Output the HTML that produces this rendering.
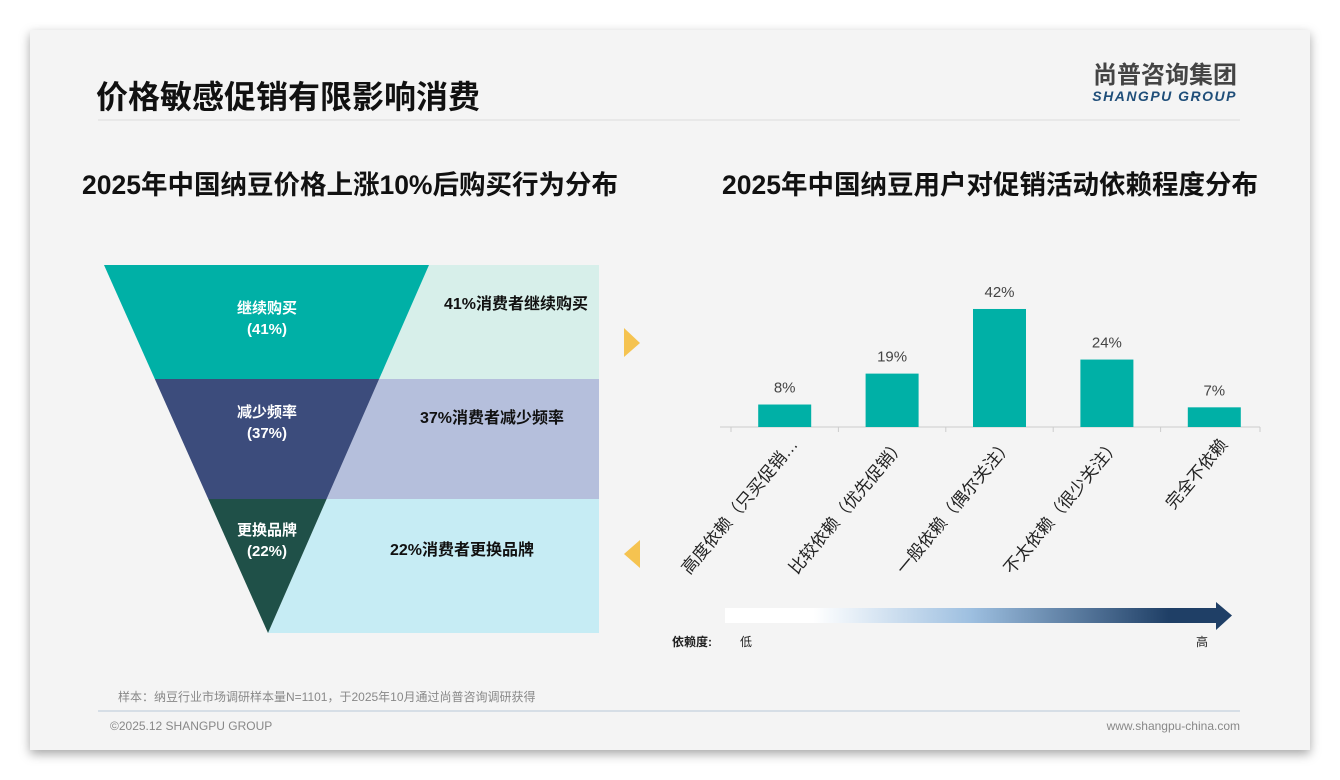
<!DOCTYPE html>
<html><head><meta charset="utf-8"><style>
body{margin:0;width:1340px;height:780px;background:#fff;overflow:hidden;font-family:"Liberation Sans","Noto Sans CJK SC",sans-serif}
#card{position:absolute;left:30px;top:30px;width:1280px;height:720px;background:#f4f4f4;box-shadow:0 4px 10px rgba(0,0,0,.35)}
</style></head><body>
<div id="card"></div>
<svg width="1340" height="780" style="position:absolute;left:0;top:0" font-family="Liberation Sans, Noto Sans CJK SC, sans-serif">
<text x="96" y="108" font-size="32" font-weight="bold" fill="#111">价格敏感促销有限影响消费</text>
<line x1="98" y1="120" x2="1240" y2="120" stroke="#ddd"/>
<text x="1237" y="83" font-size="24" font-weight="bold" fill="#444" text-anchor="end">尚普咨询集团</text>
<text x="1237" y="101" font-size="14" font-weight="bold" font-style="italic" fill="#1f4e79" text-anchor="end" letter-spacing="1.5">SHANGPU GROUP</text>
<text x="350" y="194" font-size="26.5" font-weight="bold" fill="#111" text-anchor="middle">2025年中国纳豆价格上涨10%后购买行为分布</text>
<text x="990" y="194" font-size="26.5" font-weight="bold" fill="#111" text-anchor="middle">2025年中国纳豆用户对促销活动依赖程度分布</text>
<g id="funnel"></g>
<polygon points="624,328 640,343 624,357" fill="#f5c350"/>
<polygon points="640,540 624,554 640,568" fill="#f5c350"/>
<g id="bars"></g>
<defs><linearGradient id="gr" x1="0" x2="1"><stop offset="0.18" stop-color="#fff"/><stop offset="0.5" stop-color="#9dbfe0"/><stop offset="0.9" stop-color="#1f3f66"/></linearGradient></defs>
<rect x="725" y="608" width="493" height="15" fill="url(#gr)"/>
<polygon points="1216,602 1232,615.5 1216,630" fill="#1f3f66"/>
<text x="672" y="646" font-size="12" font-weight="bold" fill="#222">依赖度:</text>
<text x="740" y="646" font-size="12" fill="#222">低</text>
<text x="1196" y="646" font-size="12" fill="#222">高</text>
<text x="118" y="701" font-size="12" fill="#888">样本：纳豆行业市场调研样本量N=1101，于2025年10月通过尚普咨询调研获得</text>
<line x1="98" y1="711" x2="1240" y2="711" stroke="#b8c8d8"/>
<text x="110" y="730" font-size="12" fill="#888">©2025.12 SHANGPU GROUP</text>
<text x="1240" y="730" font-size="12" fill="#888" text-anchor="end">www.shangpu-china.com</text>
</svg>
<script>
const NS='http://www.w3.org/2000/svg';
function mk(p,t,a){const e=document.createElementNS(NS,t);for(const k in a)e.setAttribute(k,a[k]);p.appendChild(e);return e;}
// funnel data
const fLabels=['继续购买','减少频率','更换品牌'];
const fValues=[41,37,22];
const fNotes=['41%消费者继续购买','37%消费者减少频率','22%消费者更换品牌'];
const fDark=['#00b0a6','#3c4c7c','#1f5048'];
const fLight=['#d7efea','#b5bfdc','#c6ecf4'];
const fb=[265,379,499,633];
const g=document.getElementById('funnel');
const L=y=>104+(y-265)*164/368, R=y=>429-(y-265)*161/368;
const nx=[516,492,462];
for(let i=0;i<3;i++){
 const y0=fb[i],y1=fb[i+1];
 const lp=mk(g,'polygon',{points:`${R(y0)},${y0} 599,${y0} 599,${y1} ${R(y1)},${y1}`,fill:fLight[i]});
 
 
 const dp=mk(g,'polygon',{points:`${L(y0)},${y0} ${R(y0)},${y0} ${R(y1)},${y1} ${L(y1)},${y1}`,fill:fDark[i]});
 
 
 const cy=[313,417,535][i];
 const t1=mk(g,'text',{x:267,y:cy,'font-size':15,'font-weight':'bold',fill:'#fff','text-anchor':'middle'});t1.textContent=fLabels[i];
 
 
 const t2=mk(g,'text',{x:267,y:cy+21,'font-size':15,'font-weight':'bold',fill:'#fff','text-anchor':'middle'});t2.textContent='('+fValues[i]+'%)';
 
 
 const t3=mk(g,'text',{x:nx[i],y:cy-4+[0,10,24][i],'font-size':16,'font-weight':'bold',fill:'#111','text-anchor':'middle'});t3.textContent=fNotes[i];
 
 
}
// bar data
const categories=['高度依赖（只买促销…','比较依赖（优先促销）','一般依赖（偶尔关注）','不太依赖（很少关注）','完全不依赖'];
const values=[8,19,42,24,7];
const b=document.getElementById('bars');
const x0=731,step=107.4,base=427,k=2.81;
const ax=mk(b,'line',{x1:720,y1:base,x2:1260,y2:base,stroke:'#ccc'});


categories.forEach((c,i)=>{
 const cx=x0+step*(i+0.5),h=values[i]*k;
 const r=mk(b,'rect',{x:cx-26.5,y:base-h,width:53,height:h,fill:'#00b0a6'});
 
 
 const v=mk(b,'text',{x:cx,y:base-h-12,'font-size':15,fill:'#444','text-anchor':'middle'});v.textContent=values[i]+'%';
 
 
 const tk=mk(b,'line',{x1:x0+step*i,y1:base,x2:x0+step*i,y2:base+5,stroke:'#ccc'});
 
 
 const t=mk(b,'text',{x:cx+14,y:base+18,'font-size':17,fill:'#222','text-anchor':'end',transform:`rotate(-50 ${cx+14} ${base+18})`});t.textContent=c;
 
 
});
const tl=mk(b,'line',{x1:1260,y1:base,x2:1260,y2:base+5,stroke:'#ccc'});


</script>
</body></html>
